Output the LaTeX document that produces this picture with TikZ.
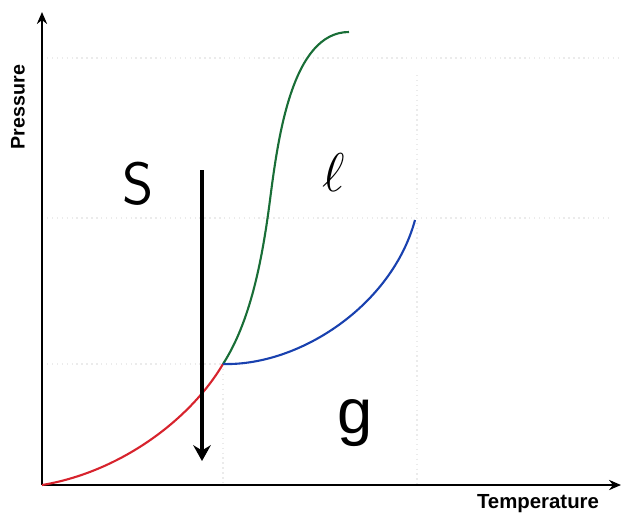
\documentclass[tikz,border=0pt]{standalone}
\usepackage{fontspec}
\newfontfamily\axisfont{Liberation Sans}
\usepackage{tikz}
\usetikzlibrary{arrows.meta, positioning}

\definecolor{solidred}{RGB}{215,35,45}
\definecolor{liquidgreen}{RGB}{25,110,55}
\definecolor{gasblue}{RGB}{25,65,175}

\begin{document}
\begin{tikzpicture}[x=0.02cm,y=-0.02cm,
        axis/.style={line width=1.1pt,-{Stealth[length=6.8pt,width=5.8pt]}},
        curve/.style={line width=1.2pt},
        guide/.style={black!8,dotted,line width=0.8pt},
        phase/.style={font=\fontsize{34}{34}\selectfont\sffamily}]
            \useasboundingbox (0,0) rectangle (621,515);
            % faint guide lines
            \draw[guide] (42,364) -- (223,364);
            \draw[guide] (42,218) -- (610,218);
            \draw[guide] (42,58) -- (620,58);
            \draw[guide] (223,364) -- (223,485);
            \draw[guide] (417,75) -- (417,485);
            % axes
            \coordinate (o) at (42,485);
            \coordinate (ytop) at (42,12);
            \coordinate (xend) at (621,485);
            \draw[axis] (o) -- (ytop);
            \draw[axis] (o) -- (xend);
            \node[rotate=90,font=\axisfont\bfseries\fontsize{11.2}{13}\selectfont](p) at (18,107) {Pressure};
            \node[font=\axisfont\bfseries\fontsize{11.6}{13}\selectfont](t) at (538,504) {Temperature};
            % phase boundaries
            \coordinate (tp) at (223,364);
            \coordinate (top) at (349,32);
            \coordinate (crit) at (415,220);
            \draw[curve,solidred] (o) .. controls (120,472) and (190,420) .. (tp);
            \draw[curve,liquidgreen] (tp) .. controls (250,322) and (262,262) .. (270,200)
                .. controls (278,138) and (292,32) .. (top);
            \draw[curve,gasblue] (tp) .. controls (300,366) and (392,305) .. (crit);
            % phase labels
            \node[phase](s) at (138,184) {S};
            \node[phase,scale=1.25](l) at (334,173) {$\ell$};
            \node[phase,font=\axisfont\fontsize{36}{36}\selectfont](g) at (355,423) {g};
            % isothermal compression
            \coordinate (a1) at (202,170);
            \coordinate (a2) at (202,461);
            \draw[line width=2.4pt,-{Stealth[length=9pt,width=10pt,inset=3pt]}] (a1) -- (a2);
        \end{tikzpicture}
\end{document}
